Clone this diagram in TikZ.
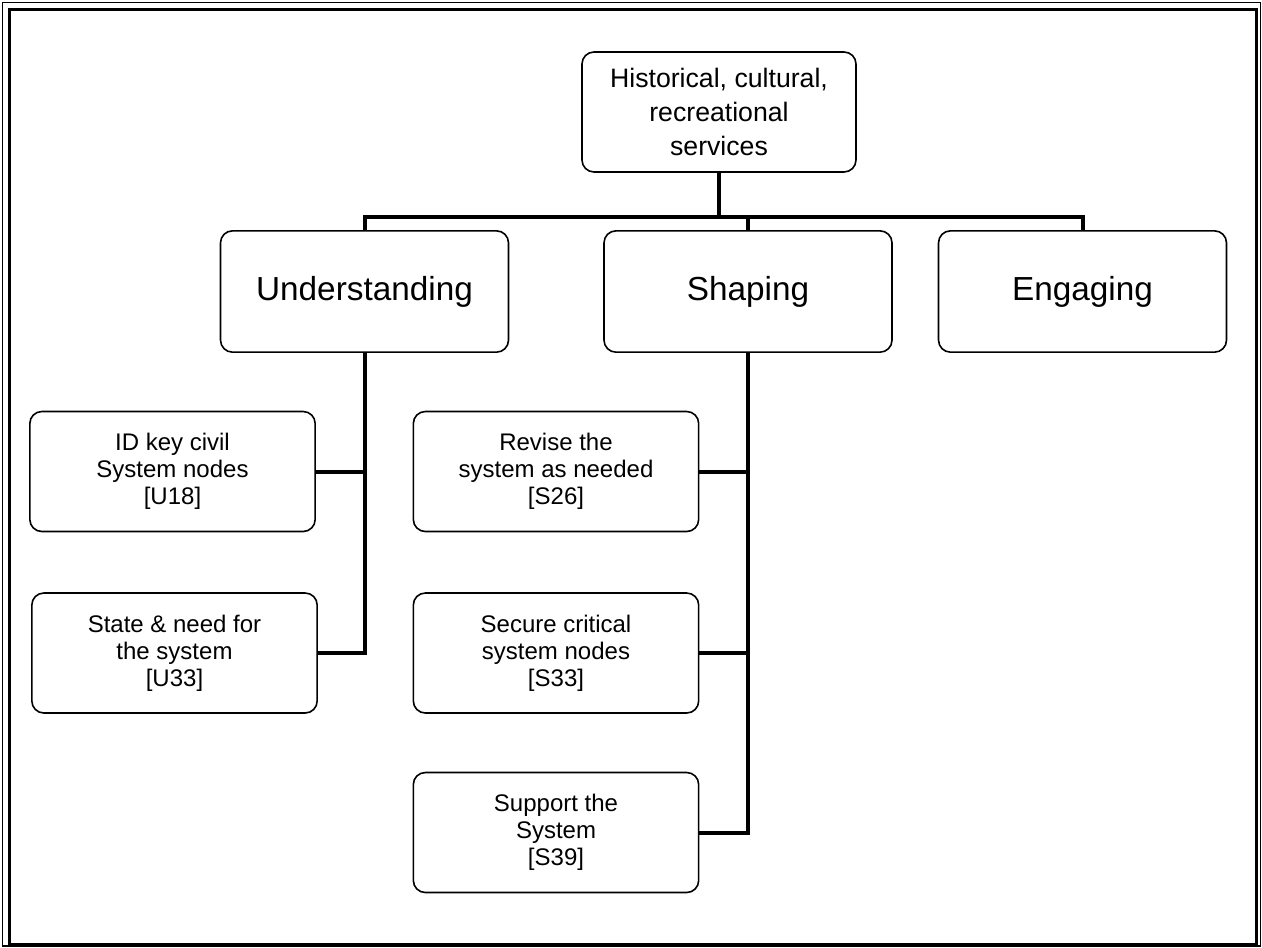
\documentclass[tikz,border=0pt]{standalone}
\usepackage{fontspec}
\setmainfont{Liberation Sans}
\usepackage{tikz}

\begin{document}
\begin{tikzpicture}[x=0.75pt,y=-0.75pt,
    box/.style={draw,line width=1.2pt,rounded corners=9pt,align=center,inner sep=0pt},
    topbox/.style={box,minimum width=205.5pt,minimum height=90pt,font=\fontsize{20}{25.5}\selectfont},
    areabox/.style={box,minimum width=216pt,minimum height=91pt,font=\fontsize{25}{30}\selectfont},
    taskbox/.style={box,minimum width=214pt,minimum height=90pt,font=\fontsize{18}{20.3}\selectfont},
    link/.style={line width=3pt}]
    \useasboundingbox (0,0) rectangle (1262,947);
    % double frame
    \draw [line width=1pt] (2.5,2.5) rectangle (1260.5,946);
    \draw [line width=2.2pt] (9.5,9.5) rectangle (1256.5,944);
    % nodes
    \node [topbox] (hist) at (719,112) {Historical, cultural,\\recreational\\services};
    \node [areabox] (und) at (364.5,291.5) {Understanding};
    \node [areabox] (shp) at (748,291.5) {Shaping};
    \node [areabox] (eng) at (1082.5,291.5) {Engaging};
    \node [taskbox] (u18) at (172.5,471.5) {ID key civil\\System nodes\\{}[U18]};
    \node [taskbox] (u33) at (174.5,653) {State \& need for\\the system\\{}[U33]};
    \node [taskbox] (s26) at (556,471.5) {Revise the\\system as needed\\{}[S26]};
    \node [taskbox] (s33) at (556,653) {Secure critical\\system nodes\\{}[S33]};
    \node [taskbox] (s39) at (556,832.5) {Support the\\System\\{}[S39]};
    % connectors
    \coordinate (bus) at (0,217);
    \draw [link] (hist.south) -- (hist.south |- bus);
    \draw [link] (und.north) -- (und.north |- bus) -- (eng.north |- bus) -- (eng.north);
    \draw [link] (shp.north) -- (shp.north |- bus);
    \draw [link] (und.south) |- (u33.east);
    \draw [link] (u18.east) -- (und.south |- u18.east);
    \draw [link] (shp.south) |- (s39.east);
    \draw [link] (s26.east) -- (shp.south |- s26.east);
    \draw [link] (s33.east) -- (shp.south |- s33.east);
\end{tikzpicture}
\end{document}
